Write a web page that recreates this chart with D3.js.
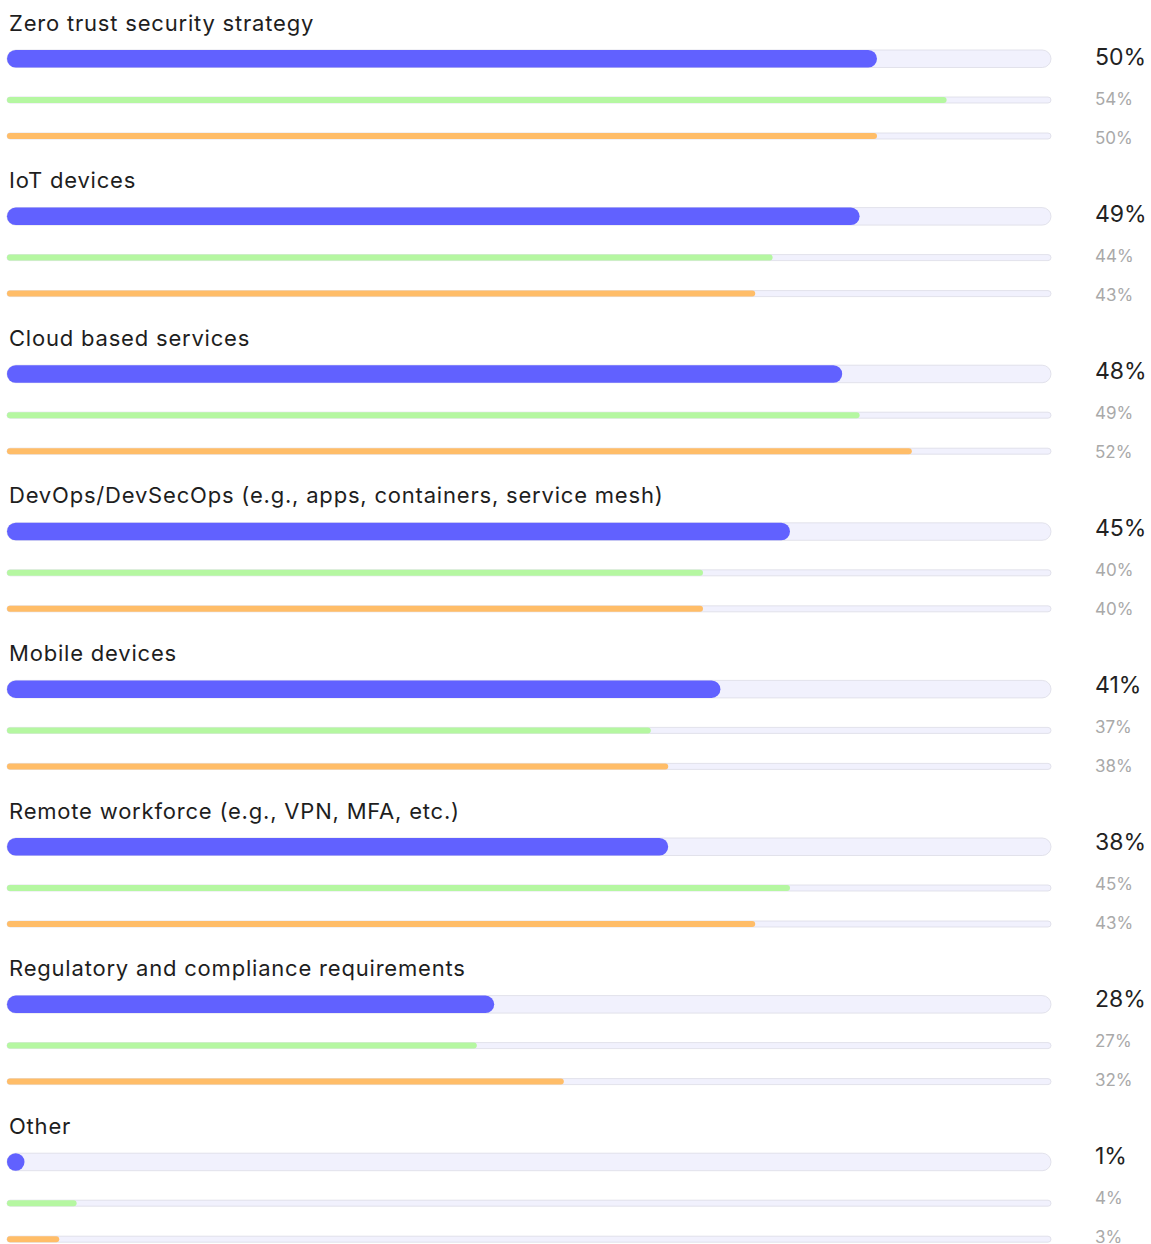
<!DOCTYPE html>
<html>
<head>
<meta charset="utf-8">
<script src="https://cdn.jsdelivr.net/npm/d3@7"></script>
<style>
  html, body { margin: 0; padding: 0; background: #ffffff; }
  svg { display: block; }
  text { font-family: Inter, "Noto Sans", sans-serif; }
</style>
</head>
<body>
<svg id="chart" width="1151" height="1244"></svg>
<script>
// Share of respondents per area, three survey years (main bar = latest)
const categories = [
  "Zero trust security strategy",
  "IoT devices",
  "Cloud based services",
  "DevOps/DevSecOps (e.g., apps, containers, service mesh)",
  "Mobile devices",
  "Remote workforce (e.g., VPN, MFA, etc.)",
  "Regulatory and compliance requirements",
  "Other"
];
const currentYear = [50, 49, 48, 45, 41, 38, 28, 1];
const previousYear = [54, 44, 49, 40, 37, 45, 27, 4];
const earlierYear = [50, 43, 52, 40, 38, 43, 32, 3];
const axisMax = 60;

const svg = d3.select("#chart");

const x = d3.scaleLinear().domain([0, axisMax]).range([7, 1051]);
// bars + titles column
const group = d3.scaleBand()
  .domain(categories)
  .range([0, 157.6 * categories.length]);
// value label column (slightly tighter rhythm)
const labelGroup = d3.scaleBand()
  .domain(categories)
  .range([0, 157 * categories.length]);

const rows = categories.map((c, i) => ({
  name: c,
  series: [
    { key: "current", value: currentYear[i], y: 50, h: 17.5, fill: "#6161ff", labelY: 65, size: 23, color: "#222222" },
    { key: "previous", value: previousYear[i], y: 97, h: 6, fill: "#b5f7a1", labelY: 105, size: 17, color: "#a9a9a9" },
    { key: "earlier", value: earlierYear[i], y: 133, h: 6, fill: "#ffbd68", labelY: 143.5, size: 17, color: "#a9a9a9" }
  ]
}));

const g = svg.selectAll("g.row")
  .data(rows)
  .join("g")
  .attr("class", "row")
  .attr("transform", d => `translate(0,${group(d.name)})`);

g.append("text")
  .attr("x", 9)
  .attr("y", 30.5)
  .attr("font-size", 22)
  .attr("letter-spacing", 0.8)
  .attr("fill", "#1e1e1e")
  .text(d => d.name);

const s = g.selectAll("g.series")
  .data(d => d.series)
  .join("g")
  .attr("class", "series");

// background track
s.append("rect")
  .attr("x", x(0))
  .attr("y", d => d.y)
  .attr("width", x(axisMax) - x(0))
  .attr("height", d => d.h)
  .attr("rx", d => d.h / 2)
  .attr("fill", "#f1f1fd")
  .attr("stroke", "#dcdce6")
  .attr("stroke-width", 0.8);

// value bar
s.append("rect")
  .attr("x", x(0))
  .attr("y", d => d.y)
  .attr("width", d => Math.max(x(d.value) - x(0), d.h))
  .attr("height", d => d.h)
  .attr("rx", d => d.h / 2)
  .attr("fill", d => d.fill);

// value labels
const lg = svg.selectAll("g.labels")
  .data(rows)
  .join("g")
  .attr("class", "labels")
  .attr("transform", d => `translate(0,${labelGroup(d.name)})`);

lg.selectAll("text")
  .data(d => d.series)
  .join("text")
  .attr("x", 1095)
  .attr("y", d => d.labelY)
  .attr("font-size", d => d.size)
  .attr("fill", d => d.color)
  .text(d => d.value + "%");
</script>
</body>
</html>
